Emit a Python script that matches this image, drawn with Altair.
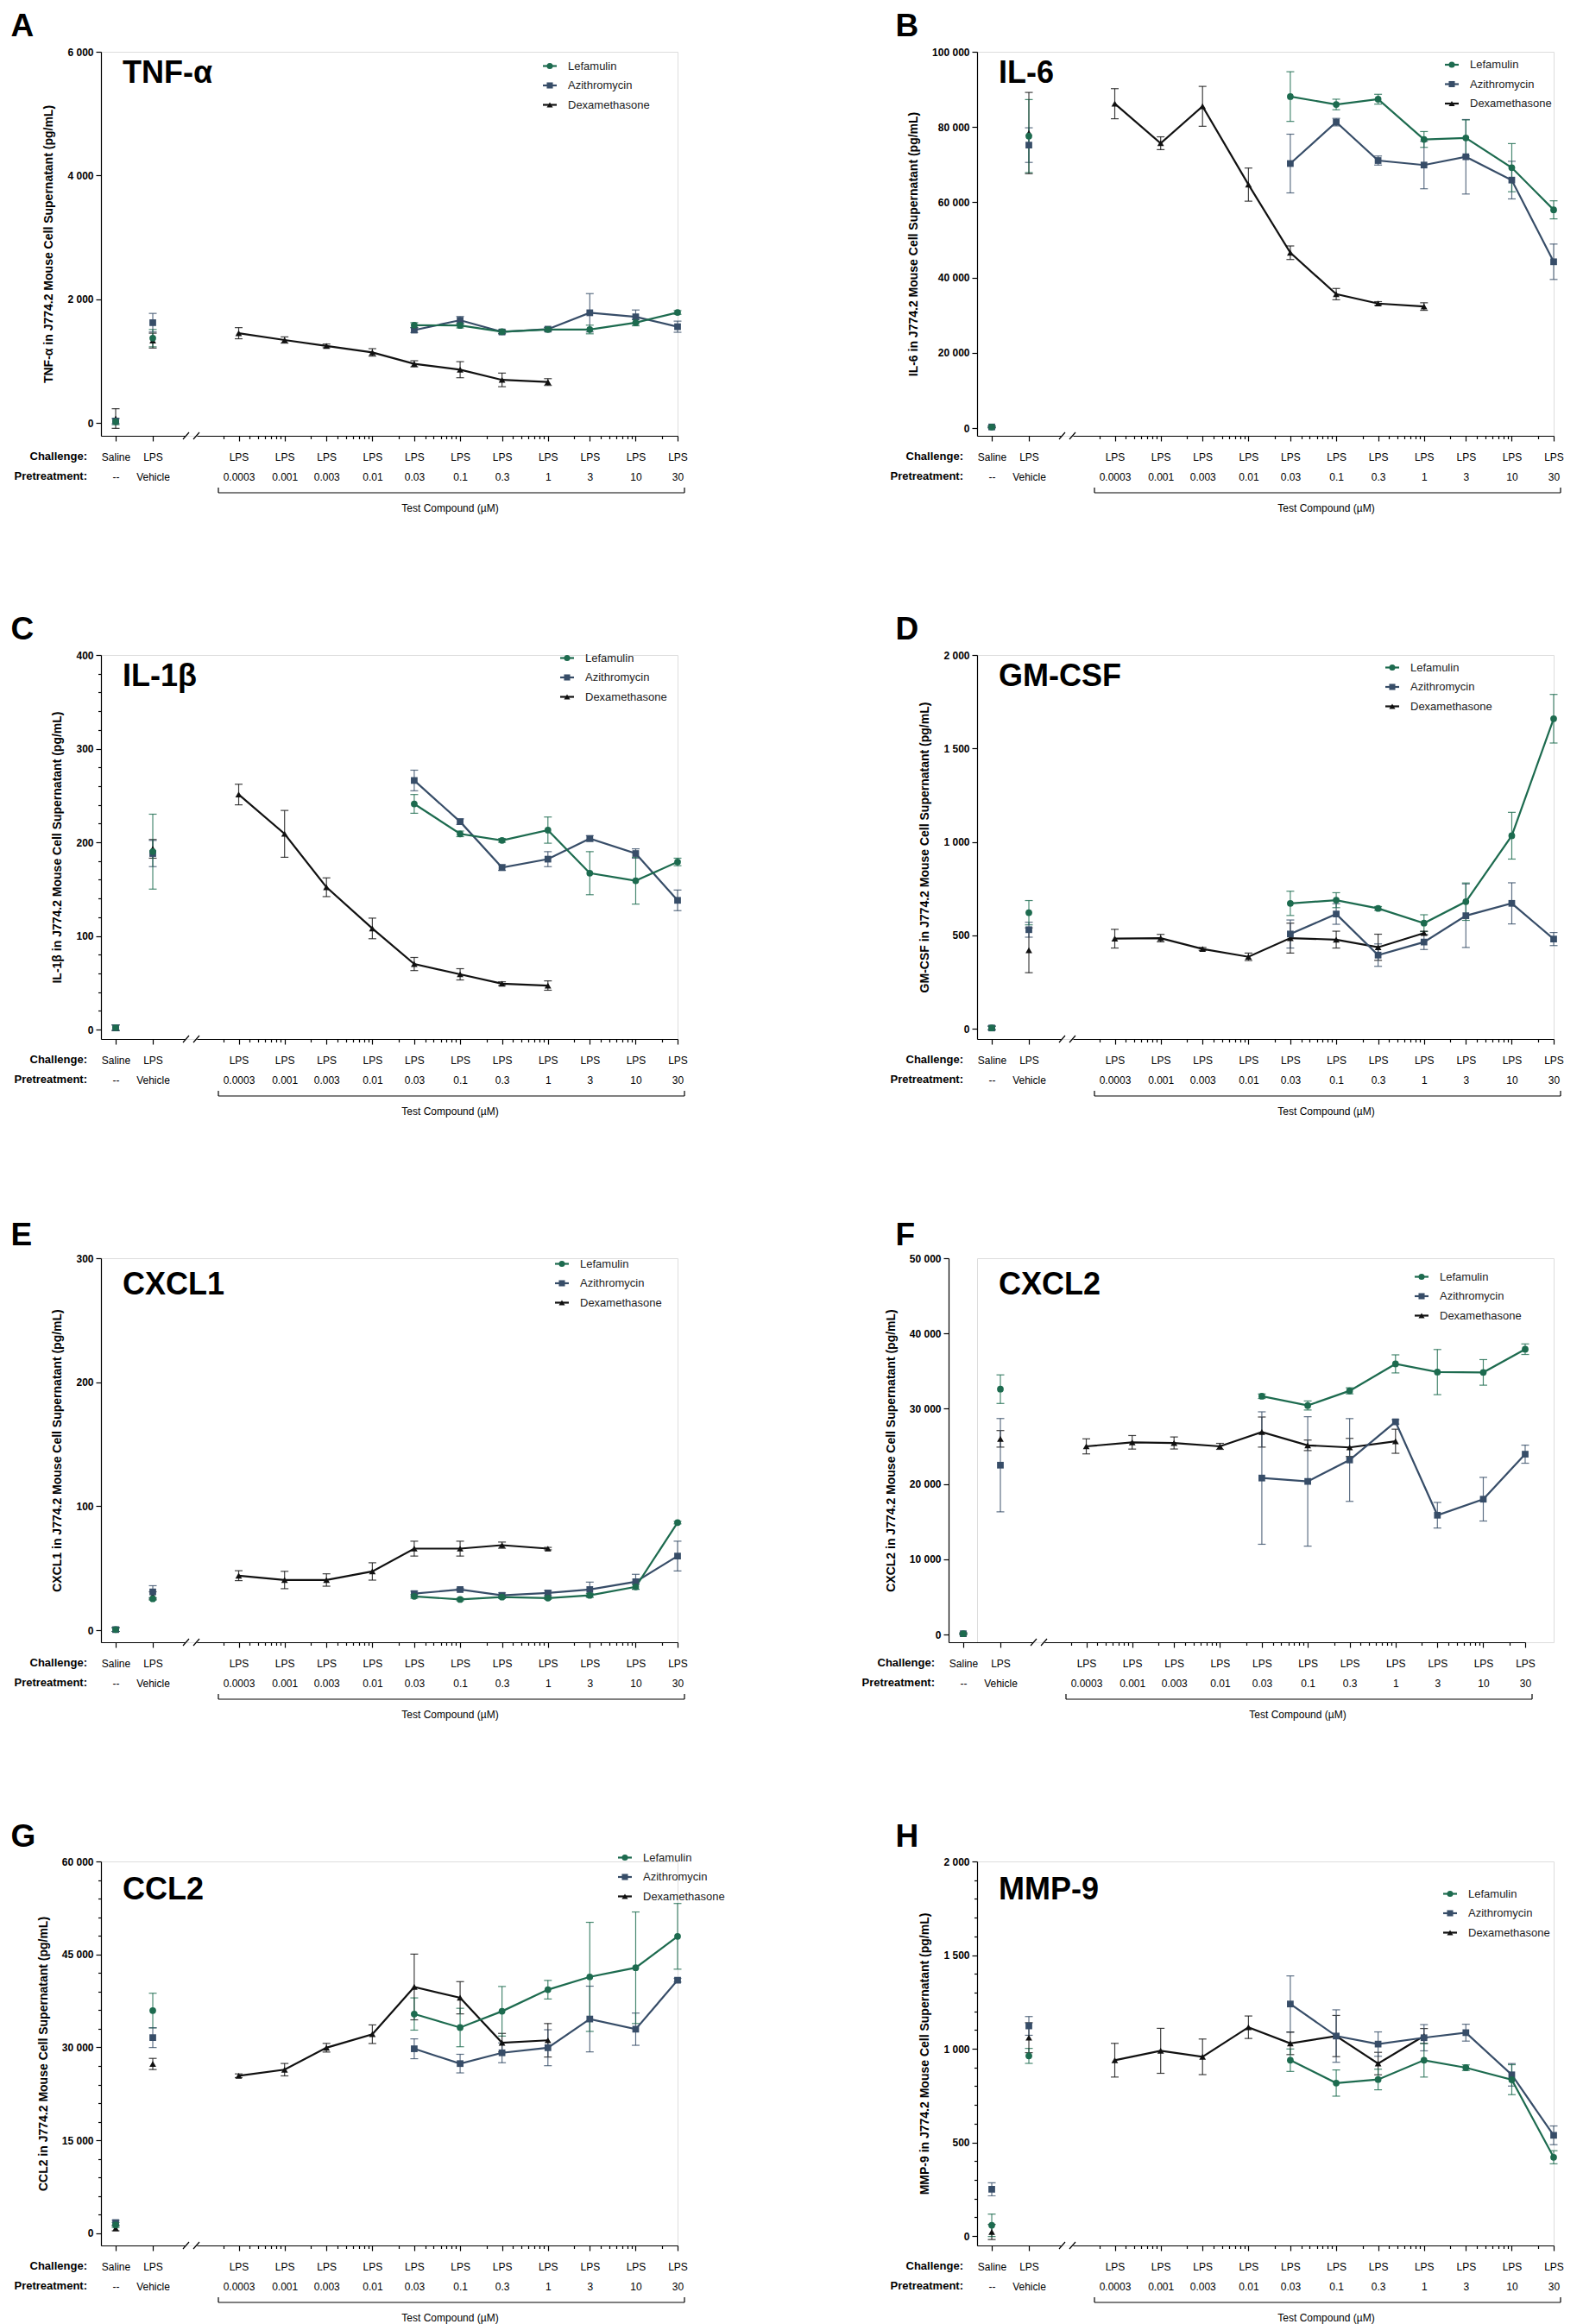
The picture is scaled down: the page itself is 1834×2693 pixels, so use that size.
import altair as alt
import pandas as pd

FONT = "Liberation Sans, Arial, Helvetica, sans-serif"

SERIES = ["Lefamulin", "Azithromycin", "Dexamethasone"]
COLORS = ["#1d6b4f", "#374d68", "#111111"]
SHAPES = ["circle", "square", "triangle-up"]
GROUPS = ["Saline", "LPS"]
DEX_DOSES = [0.0003, 0.001, 0.003, 0.01, 0.03, 0.1, 0.3, 1]
ABX_DOSES = [0.03, 0.1, 0.3, 1, 3, 10, 30]
LOG_TICKS = [0.0002, 0.0003, 0.0004, 0.0005, 0.0006, 0.0007, 0.0008, 0.0009,
             0.001, 0.002, 0.003, 0.004, 0.005, 0.006, 0.007, 0.008, 0.009,
             0.01, 0.02, 0.03, 0.04, 0.05, 0.06, 0.07, 0.08, 0.09,
             0.1, 0.2, 0.3, 0.4, 0.5, 0.6, 0.7, 0.8, 0.9,
             1, 2, 3, 4, 5, 6, 7, 8, 9, 10, 20, 30]
LABELED_DOSES = [0.0003, 0.001, 0.003, 0.01, 0.03, 0.1, 0.3, 1, 3, 10, 30]

# ---- A: TNF-alpha (order within saline/LPS lists: Lefamulin, Azithromycin, Dexamethasone)
TNF_SALINE = [20, 30, 70]
TNF_SALINE_SEM = [50, 40, 160]
TNF_LPS = [1370, 1620, 1330]
TNF_LPS_SEM = [140, 150, 120]
TNF_LEF = [1580, 1575, 1475, 1510, 1510, 1620, 1785]
TNF_LEF_SEM = [40, 40, 30, 30, 70, 50, 30]
TNF_AZI = [1500, 1660, 1470, 1515, 1780, 1715, 1555]
TNF_AZI_SEM = [40, 60, 30, 30, 310, 110, 90]
TNF_DEX = [1450, 1340, 1245, 1140, 955, 860, 695, 660]
TNF_DEX_SEM = [90, 50, 30, 60, 50, 130, 110, 55]

# ---- B: IL-6
IL6_SALINE = [300, 300, 300]
IL6_SALINE_SEM = [200, 200, 200]
IL6_LPS = [77600, 75200, 78400]
IL6_LPS_SEM = [9700, 4600, 10800]
IL6_LEF = [88100, 86000, 87400, 76700, 77100, 69200, 58000]
IL6_LEF_SEM = [6600, 1400, 1300, 2100, 4800, 6400, 2400]
IL6_AZI = [70300, 81300, 71100, 69900, 72100, 65900, 44200]
IL6_AZI_SEM = [7800, 1000, 1200, 6300, 9900, 5000, 4700]
IL6_DEX = [86200, 75700, 85500, 64700, 46600, 35600, 33100, 32300]
IL6_DEX_SEM = [4000, 1700, 5300, 4400, 1800, 1500, 500, 1000]

# ---- C: IL-1beta
IL1B_SALINE = [2, 2, 2]
IL1B_SALINE_SEM = [3, 3, 3]
IL1B_LPS = [190, 188, 193]
IL1B_LPS_SEM = [40, 14, 10]
IL1B_LEF = [241, 209, 202, 213, 167, 159, 179]
IL1B_LEF_SEM = [10, 3, 2, 14, 23, 25, 4]
IL1B_AZI = [266, 222, 173, 182, 204, 188, 138]
IL1B_AZI_SEM = [11, 3, 3, 8, 3, 5, 11]
IL1B_DEX = [251, 209, 152, 108, 70, 59, 49, 47]
IL1B_DEX_SEM = [11, 25, 10, 11, 7, 6, 2, 5]

# ---- D: GM-CSF
GMCSF_SALINE = [4, 4, 4]
GMCSF_SALINE_SEM = [10, 10, 10]
GMCSF_LPS = [621, 530, 420]
GMCSF_LPS_SEM = [65, 40, 120]
GMCSF_LEF = [671, 688, 644, 565, 680, 1033, 1659]
GMCSF_LEF_SEM = [65, 40, 10, 45, 100, 125, 130]
GMCSF_AZI = [507, 614, 394, 464, 605, 671, 480]
GMCSF_AZI_SEM = [75, 55, 60, 40, 170, 110, 35]
GMCSF_DEX = [482, 485, 427, 385, 485, 477, 436, 512]
GMCSF_DEX_SEM = [50, 20, 8, 20, 80, 45, 70, 10]

# ---- E: CXCL1
CXCL1_SALINE = [0.5, 0.5, 0.5]
CXCL1_SALINE_SEM = [1.5, 1.5, 1.5]
CXCL1_LPS = [25.3, 30.9, 28]
CXCL1_LPS_SEM = [1, 5, 3]
CXCL1_LEF = [27.3, 24.8, 26.7, 25.9, 28.1, 35, 86.8]
CXCL1_LEF_SEM = [1.5, 1, 1, 1, 1.5, 2, 1]
CXCL1_AZI = [29.5, 32.8, 28.1, 30, 32.8, 39.1, 59.8]
CXCL1_AZI_SEM = [2, 1, 2, 2, 6, 6, 12]
CXCL1_DEX = [44, 40.5, 40.5, 47.4, 65.8, 65.8, 68.6, 65.8]
CXCL1_DEX_SEM = [4, 7, 5, 7, 6, 6, 2.5, 1]

# ---- F: CXCL2
CXCL2_SALINE = [100, 100, 100]
CXCL2_SALINE_SEM = [100, 100, 100]
CXCL2_LPS = [32600, 22500, 26000]
CXCL2_LPS_SEM = [1900, 6200, 1100]
CXCL2_LEF = [31660, 30430, 32380, 35960, 34870, 34830, 37910]
CXCL2_LEF_SEM = [300, 600, 400, 1200, 3000, 1700, 700]
CXCL2_AZI = [20790, 20340, 23190, 28260, 15850, 17980, 23960]
CXCL2_AZI_SEM = [8800, 8600, 5500, 300, 1700, 2900, 1200]
CXCL2_DEX = [25000, 25540, 25450, 25000, 26900, 25140, 24860, 25680]
CXCL2_DEX_SEM = [1000, 900, 800, 400, 2000, 700, 1200, 1600]

# ---- G: CCL2
CCL2_SALINE = [1360, 1740, 820]
CCL2_SALINE_SEM = [400, 400, 400]
CCL2_LPS = [35940, 31580, 27330]
CCL2_LPS_SEM = [2800, 1600, 900]
CCL2_LEF = [35390, 33210, 35830, 39310, 41380, 42850, 47920]
CCL2_LEF_SEM = [2600, 3100, 4000, 1500, 8800, 9000, 5300]
CCL2_AZI = [29780, 27390, 29130, 29950, 34580, 32940, 40840]
CCL2_AZI_SEM = [1600, 1500, 1600, 2900, 5300, 2600, 300]
CCL2_DEX = [25430, 26410, 29950, 32130, 39750, 38010, 30760, 31150]
CCL2_DEX_SEM = [300, 1000, 700, 1500, 5300, 2600, 1500, 2700]

# ---- H: MMP-9
MMP9_SALINE = [58, 250, 22]
MMP9_SALINE_SEM = [60, 35, 40]
MMP9_LPS = [962, 1122, 1059]
MMP9_LPS_SEM = [40, 50, 80]
MMP9_LEF = [939, 817, 836, 939, 899, 835, 421]
MMP9_LEF_SEM = [60, 70, 55, 90, 15, 80, 35]
MMP9_AZI = [1239, 1068, 1025, 1059, 1086, 861, 538]
MMP9_AZI_SEM = [150, 140, 65, 70, 45, 60, 50]
MMP9_DEX = [939, 989, 957, 1115, 1029, 1068, 921, 1068]
MMP9_DEX_SEM = [90, 120, 95, 60, 60, 110, 60, 40]

PANELS = [
    dict(letter="A", name="TNF-\u03b1", ymin=-209, ymax=6000, step=2000, minor=None, shift=0, leg=(520, 16.5),
         data=(TNF_SALINE, TNF_SALINE_SEM, TNF_LPS, TNF_LPS_SEM, TNF_LEF, TNF_LEF_SEM, TNF_AZI, TNF_AZI_SEM, TNF_DEX, TNF_DEX_SEM)),
    dict(letter="B", name="IL-6", ymin=-2050, ymax=100000, step=20000, minor=None, shift=0, leg=(550, 15),
         data=(IL6_SALINE, IL6_SALINE_SEM, IL6_LPS, IL6_LPS_SEM, IL6_LEF, IL6_LEF_SEM, IL6_AZI, IL6_AZI_SEM, IL6_DEX, IL6_DEX_SEM)),
    dict(letter="C", name="IL-1\u03b2", ymin=-10.1, ymax=400, step=100, minor=20, shift=0, leg=(540, 3.5),
         data=(IL1B_SALINE, IL1B_SALINE_SEM, IL1B_LPS, IL1B_LPS_SEM, IL1B_LEF, IL1B_LEF_SEM, IL1B_AZI, IL1B_AZI_SEM, IL1B_DEX, IL1B_DEX_SEM)),
    dict(letter="D", name="GM-CSF", ymin=-55, ymax=2000, step=500, minor=None, shift=0, leg=(481, 14.5),
         data=(GMCSF_SALINE, GMCSF_SALINE_SEM, GMCSF_LPS, GMCSF_LPS_SEM, GMCSF_LEF, GMCSF_LEF_SEM, GMCSF_AZI, GMCSF_AZI_SEM, GMCSF_DEX, GMCSF_DEX_SEM)),
    dict(letter="E", name="CXCL1", ymin=-9.7, ymax=300, step=100, minor=None, shift=0, leg=(534, 6.5),
         data=(CXCL1_SALINE, CXCL1_SALINE_SEM, CXCL1_LPS, CXCL1_LPS_SEM, CXCL1_LEF, CXCL1_LEF_SEM, CXCL1_AZI, CXCL1_AZI_SEM, CXCL1_DEX, CXCL1_DEX_SEM)),
    dict(letter="F", name="CXCL2", ymin=-1030, ymax=50000, step=10000, minor=None, shift=-33, leg=(515, 21.5),
         data=(CXCL2_SALINE, CXCL2_SALINE_SEM, CXCL2_LPS, CXCL2_LPS_SEM, CXCL2_LEF, CXCL2_LEF_SEM, CXCL2_AZI, CXCL2_AZI_SEM, CXCL2_DEX, CXCL2_DEX_SEM)),
    dict(letter="G", name="CCL2", ymin=-1950, ymax=60000, step=15000, minor=3000, shift=0, leg=(607, -4.5),
         data=(CCL2_SALINE, CCL2_SALINE_SEM, CCL2_LPS, CCL2_LPS_SEM, CCL2_LEF, CCL2_LEF_SEM, CCL2_AZI, CCL2_AZI_SEM, CCL2_DEX, CCL2_DEX_SEM)),
    dict(letter="H", name="MMP-9", ymin=-50, ymax=2000, step=500, minor=100, shift=0, leg=(548, 37.5),
         data=(MMP9_SALINE, MMP9_SALINE_SEM, MMP9_LPS, MMP9_LPS_SEM, MMP9_LEF, MMP9_LEF_SEM, MMP9_AZI, MMP9_AZI_SEM, MMP9_DEX, MMP9_DEX_SEM)),
]

W, H = 668, 445
TITLE_DY = [35.5, 35.5, 41.5, 43.5]
LETTER_DY = [-18.5, -18.5, -15, -17]
LETTER_X = [-104.5, -94.4]

color = alt.Color("series:N", scale=alt.Scale(domain=SERIES, range=COLORS), legend=None)
shape = alt.Shape("series:N", scale=alt.Scale(domain=SERIES, range=SHAPES), legend=None)


def axis_common():
    return dict(grid=False, domainColor="black", tickColor="black", domainWidth=1.2, tickWidth=1.2,
                labelFont=FONT, labelColor="black")


def make_panel(idx, p):
    row, col = divmod(idx, 2)
    s = p["shift"]
    saline, saline_sem, lps, lps_sem, lef, lef_sem, azi, azi_sem, dex, dex_sem = p["data"]

    left_rows = []
    for i in (2, 1, 0):
        for cat, vals, sems in (("Saline", saline, saline_sem), ("LPS", lps, lps_sem)):
            left_rows.append({"cat": cat, "series": SERIES[i], "v": vals[i],
                              "lo": vals[i] - sems[i], "hi": vals[i] + sems[i]})
    left_df = pd.DataFrame(left_rows)

    right_rows = []
    for name, doses, vals, sems in (("Dexamethasone", DEX_DOSES, dex, dex_sem),
                                    ("Azithromycin", ABX_DOSES, azi, azi_sem),
                                    ("Lefamulin", ABX_DOSES, lef, lef_sem)):
        for d, v, e in zip(doses, vals, sems):
            right_rows.append({"dose": d, "series": name, "v": v, "lo": v - e, "hi": v + e})
    right_df = pd.DataFrame(right_rows)

    step = p["step"]
    minor = p["minor"] or step
    yvals = list(range(0, p["ymax"] + 1, minor))
    yscale = alt.Scale(domain=[p["ymin"], p["ymax"]], nice=False, zero=False)
    yaxis = alt.Axis(
        values=yvals,
        labelExpr=f"datum.value % {step} == 0 ? replace(format(datum.value, ','), ',', ' ') : ''",
        title=f"{p['name']} in J774.2 Mouse Cell Supernatant (pg/mL)",
        tickSize={"condition": {"test": f"datum.value % {step} == 0", "value": 6}, "value": 3.5},
        offset=-s, labelFontSize=12, labelFontWeight="bold", labelPadding=3,
        titleFont=FONT, titleFontSize=14, titleFontWeight="bold", titleColor="black", titlePadding=14,
        **axis_common())

    xl_axis = alt.Axis(
        values=GROUPS, orient="bottom", title=None,
        labelExpr="datum.value == 'Saline' ? ['Saline', '--'] : ['LPS', 'Vehicle']",
        tickSize={"condition": {"test": "true", "value": 6}, "value": 6},
        labelPadding=13.5, labelFontSize=12, labelLineHeight=23, labelBaseline="top", labelAngle=0,
        labelOverlap=False, **axis_common())
    xl = alt.X("cat:N", scale=alt.Scale(type="point", domain=GROUPS, range=[s, s + 97],
                                        padding=0.628, align=0.315), axis=xl_axis)

    xr_axis = alt.Axis(
        values=LOG_TICKS, orient="bottom",
        labelExpr=f"indexof({LABELED_DOSES}, datum.value) >= 0 ? ['LPS', format(datum.value, '~g')] : ''",
        tickSize={"condition": {"test": f"indexof({LABELED_DOSES}, datum.value) >= 0", "value": 6}, "value": 3.5},
        labelPadding=13.5, labelFontSize=12, labelLineHeight=23, labelBaseline="top", labelAngle=0,
        labelOverlap=False, labelFlush=False,
        title="Test Compound (\u00b5M)", titleX=s + 404, titleY=83, titleBaseline="middle", titleAlign="center",
        titleFont=FONT, titleFontSize=12, titleFontWeight="normal", titleColor="black",
        **axis_common())
    xr = alt.X("dose:Q", scale=alt.Scale(type="log", domain=[0.0001, 30], range=[s + 111, s + 668], nice=False),
               axis=xr_axis)

    yv = alt.Y("v:Q", scale=yscale, axis=yaxis)
    ylo = alt.Y("lo:Q", scale=yscale, axis=yaxis)

    left = alt.layer(
        alt.Chart(left_df).mark_errorbar(ticks=True, size=9, thickness=1.2, opacity=0.8, orient="vertical")
        .encode(x=xl, y=ylo, y2="hi:Q", color=color),
        alt.Chart(left_df).mark_point(filled=True, opacity=1, size=60)
        .encode(x=xl, y=yv, color=color, shape=shape),
    )
    right = alt.layer(
        alt.Chart(right_df).mark_errorbar(ticks=True, size=9, thickness=1.2, opacity=0.8, orient="vertical")
        .encode(x=xr, y=ylo, y2="hi:Q", color=color),
        alt.Chart(right_df).mark_line(strokeWidth=2.2)
        .encode(x=xr, y=yv, color=color, detail="series:N"),
        alt.Chart(right_df).mark_point(filled=True, opacity=1, size=60)
        .encode(x=xr, y=yv, color=color, shape=shape),
    )

    row_lab = alt.Chart(pd.DataFrame({"t": ["Challenge:", "Pretreatment:"], "yy": [H + 24, H + 47]})).mark_text(
        align="right", baseline="middle", font=FONT, fontSize=13, fontWeight="bold", color="black"
    ).encode(text="t:N", x=alt.value(s - 16), y=alt.Y("yy:Q", scale=None, axis=None))

    letter = alt.Chart(pd.DataFrame({"t": [p["letter"]]})).mark_text(
        align="left", baseline="alphabetic", font=FONT, fontSize=37, fontWeight="bold", color="black"
    ).encode(text="t:N", x=alt.value(LETTER_X[col]), y=alt.value(LETTER_DY[row]))

    title = alt.Chart(pd.DataFrame({"t": [p["name"]]})).mark_text(
        align="left", baseline="alphabetic", font=FONT, fontSize=36, fontWeight="bold", color="black"
    ).encode(text="t:N", x=alt.value(25), y=alt.value(TITLE_DY[row]))

    bracket = alt.Chart(pd.DataFrame({
        "x": [s + 136, s + 136, s + 676], "x2": [s + 676, s + 136, s + 676],
        "y": [H + 66, H + 60, H + 60], "y2": [H + 66, H + 66, H + 66]})).mark_rule(
        color="black", strokeWidth=1.2
    ).encode(x=alt.X("x:Q", scale=None, axis=None), x2="x2:Q",
             y=alt.Y("y:Q", scale=None, axis=None), y2="y2:Q")

    slashes = alt.Chart(pd.DataFrame({
        "x": [s + 95, s + 107], "x2": [s + 102, s + 114],
        "y": [H + 4, H + 4], "y2": [H - 4, H - 4]})).mark_rule(
        color="black", strokeWidth=1.2
    ).encode(x=alt.X("x:Q", scale=None, axis=None), x2="x2:Q",
             y=alt.Y("y:Q", scale=None, axis=None), y2="y2:Q")

    lx, ly0 = p["leg"]
    leg_df = pd.DataFrame({"series": SERIES, "ly": [ly0, ly0 + 22.5, ly0 + 45]})
    ly = alt.Y("ly:Q", scale=None, axis=None)
    leg_rule = alt.Chart(leg_df).mark_rule(strokeWidth=2.2).encode(
        x=alt.value(lx - 8), x2=alt.value(lx + 8), y=ly, color=color)
    leg_pt = alt.Chart(leg_df).mark_point(filled=True, opacity=1, size=50).encode(
        x=alt.value(lx), y=ly, color=color, shape=shape)
    leg_txt = alt.Chart(leg_df).mark_text(align="left", baseline="middle", font=FONT, fontSize=13,
                                          color="#222222").encode(
        x=alt.value(lx + 21), y=ly, text="series:N")

    return alt.layer(left, right, row_lab, letter, title, bracket, slashes, leg_rule, leg_pt, leg_txt
                     ).resolve_scale(x="independent").properties(width=W, height=H)


panels = [make_panel(i, p) for i, p in enumerate(PANELS)]

chart = alt.concat(*panels, columns=2, spacing={"row": 254, "column": 347}, bounds="flush").properties(
    padding={"left": 4, "top": 3, "right": 5, "bottom": 5}
).configure_view(strokeWidth=0).configure(font=FONT)

chart.save("out.html", embed_options={"renderer": "svg", "actions": False})
